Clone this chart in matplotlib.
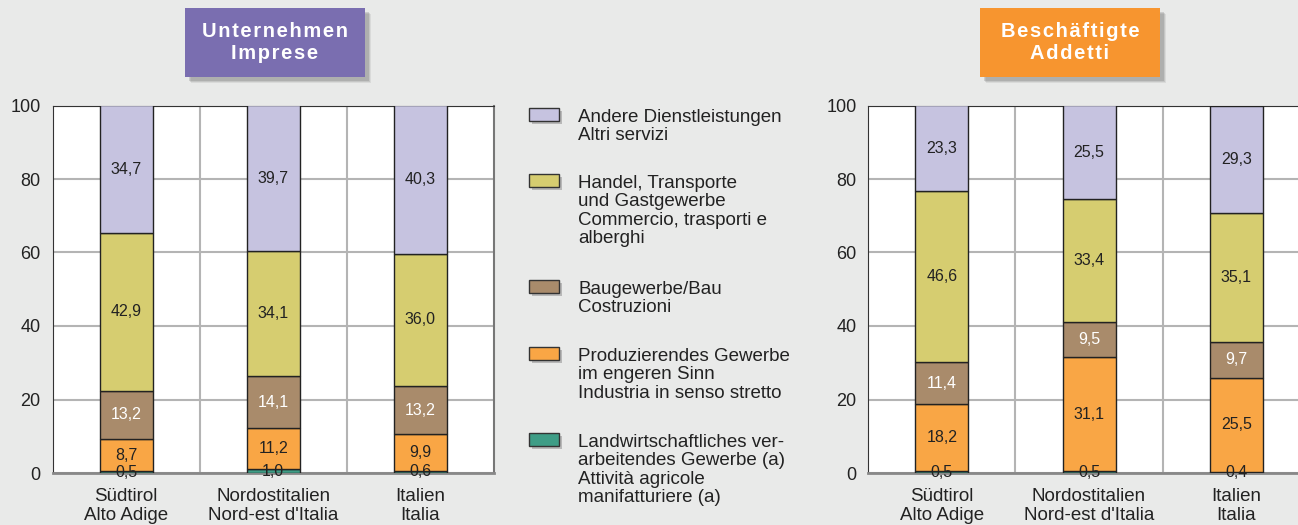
import matplotlib.pyplot as plt
from matplotlib import patches
import numpy as np

plt.rcParams['font.family'] = ['Liberation Sans', 'DejaVu Sans']

regions = ['Südtirol\nAlto Adige', "Nordostitalien\nNord-est d'Italia", 'Italien\nItalia']
yticks = [0, 20, 40, 60, 80, 100]

# Unternehmen / Imprese
imp_agri = [0.5, 1.0, 0.6]
imp_prod = [8.7, 11.2, 9.9]
imp_bau = [13.2, 14.1, 13.2]
imp_handel = [42.9, 34.1, 36.0]
imp_altri = [34.7, 39.7, 40.3]

# Beschäftigte / Addetti
add_agri = [0.5, 0.5, 0.4]
add_prod = [18.2, 31.1, 25.5]
add_bau = [11.4, 9.5, 9.7]
add_handel = [46.6, 33.4, 35.1]
add_altri = [23.3, 25.5, 29.3]

legend_labels = ['Andere Dienstleistungen\nAltri servizi',
                 'Handel, Transporte\nund Gastgewerbe\nCommercio, trasporti e\nalberghi',
                 'Baugewerbe/Bau\nCostruzioni',
                 'Produzierendes Gewerbe\nim engeren Sinn\nIndustria in senso stretto',
                 'Landwirtschaftliches ver-\narbeitendes Gewerbe (a)\nAttività agricole\nmanifatturiere (a)']

colors = ['#3e9d86', '#f9a645', '#a98b6b', '#d6cd70', '#c6c3e0']
txt_colors = ['#222222', '#222222', 'white', '#222222', '#222222']
bg = '#e9eae9'

W, H = 1298, 525
fig = plt.figure(figsize=(W / 100, H / 100), dpi=100)
fig.patch.set_facecolor(bg)


def px(x):
    return x / W


def py(y):
    return 1 - y / H


def draw_panel(left, series):
    ax = fig.add_axes([px(left), py(473), px(441.5), 367.5 / H])
    ax.set_facecolor('white')
    x = np.arange(len(regions))
    bottom = np.zeros(len(regions))
    for vals, c, tc in zip(series, colors, txt_colors):
        vals = np.array(vals)
        ax.bar(x, vals, 0.36, bottom=bottom, color=c, edgecolor='#222222',
               linewidth=1, zorder=3)
        for xi, b, v in zip(x, bottom, vals):
            ax.text(xi, b + v / 2, '{:.1f}'.format(v).replace('.', ','),
                    ha='center', va='center', fontsize=11.5, color=tc, zorder=4)
        bottom = bottom + vals
    ax.set_xlim(-0.5, 2.5)
    ax.set_ylim(0, 100)
    ax.set_yticks(yticks)
    ax.set_xticks(x)
    ax.set_xticklabels(regions, fontsize=13.5, color='#222222', linespacing=1.2)
    ax.set_yticklabels([str(t) for t in yticks], fontsize=13, color='#222222')
    ax.tick_params(length=0)
    ax.tick_params(axis='y', pad=8.5)
    ax.tick_params(axis='x', pad=10.5)
    ax.set_axisbelow(True)
    ax.yaxis.grid(True, color='#b4b4b4', linewidth=1.5)
    for xv in [0.5, 1.5]:
        ax.axvline(xv, color='#b4b4b4', linewidth=1.5, zorder=1)
    ax.spines['top'].set_color('#333333')
    ax.spines['left'].set_color('#333333')
    ax.spines['right'].set_color('#777777')
    ax.spines['bottom'].set_color('#888888')
    ax.spines['bottom'].set_linewidth(2)
    ax.spines['right'].set_linewidth(1.5)
    return ax


draw_panel(52.5, [imp_agri, imp_prod, imp_bau, imp_handel, imp_altri])
draw_panel(868.3, [add_agri, add_prod, add_bau, add_handel, add_altri])


def title_box(x0, x1, text, color):
    y0, y1 = 8, 77
    for off, a in [(6, 0.10), (5, 0.15), (4, 0.2)]:
        fig.add_artist(patches.Rectangle((px(x0 + off), py(y1 + off)),
                                         px(x1 - x0), (y1 - y0) / H,
                                         transform=fig.transFigure,
                                         facecolor='#555555', alpha=a,
                                         edgecolor='none'))
    fig.add_artist(patches.Rectangle((px(x0), py(y1)), px(x1 - x0), (y1 - y0) / H,
                                     transform=fig.transFigure,
                                     facecolor=color, edgecolor='none'))
    fig.text(px((x0 + x1) / 2), py((y0 + y1) / 2), text, ha='center',
             va='center', fontsize=14.5, fontweight='bold', color='white',
             linespacing=1.25)


title_box(185, 365, 'U n t e r n e h m e n\nI m p r e s e'.replace(' ', '\u200a'), '#7a6eb0')
title_box(980, 1160, 'B e s c h ä f t i g t e\nA d d e t t i'.replace(' ', '\u200a'), '#f7952f')

# legend, top entry first (cap top of first line)
leg_y = [110, 176, 282, 349, 435]
for yy, lab, c in zip(leg_y, legend_labels, colors[::-1]):
    fig.add_artist(patches.Rectangle((px(531.5), py(yy + 13.5)), px(30), 13 / H,
                                     transform=fig.transFigure,
                                     facecolor='#888888', alpha=0.5, edgecolor='none'))
    fig.add_artist(patches.Rectangle((px(529), py(yy + 11)), px(30), 13 / H,
                                     transform=fig.transFigure,
                                     facecolor=c, edgecolor='#333333', linewidth=1))
    fig.text(px(578), py(yy - 1), lab, ha='left', va='top', fontsize=13.5,
             color='#222222', linespacing=1.1)

plt.savefig('out.png', dpi=100, facecolor=bg)
